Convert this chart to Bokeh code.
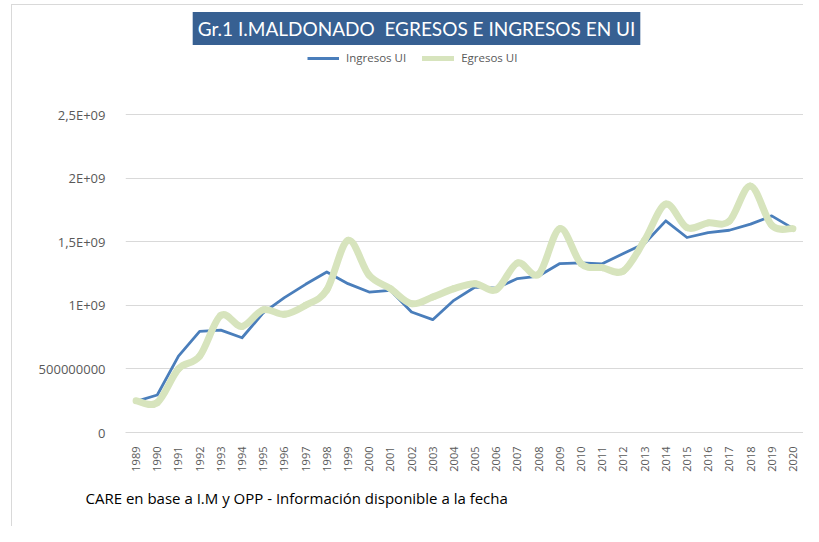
from bokeh.plotting import figure
from bokeh.models import (ColumnDataSource, FixedTicker, Label, Legend, LegendItem, Range1d, Title)
from bokeh.embed import file_html
from bokeh.resources import INLINE
from math import pi

years = list(range(1989, 2021))
ingresos = [2.45e8, 2.95e8, 6.0e8, 7.95e8, 8.05e8, 7.45e8, 9.4e8, 1.06e9, 1.165e9, 1.262e9,
            1.17e9, 1.104e9, 1.118e9, 9.47e8, 8.87e8, 1.039e9, 1.144e9, 1.135e9, 1.21e9, 1.23e9,
            1.328e9, 1.333e9, 1.326e9, 1.407e9, 1.486e9, 1.664e9, 1.533e9, 1.572e9, 1.59e9, 1.638e9,
            1.703e9, 1.605e9]
egresos = [2.5e8, 2.35e8, 5.0e8, 6.0e8, 9.2e8, 8.34e8, 9.65e8, 9.29e8, 1.0e9, 1.12e9,
           1.51e9, 1.236e9, 1.131e9, 1.013e9, 1.065e9, 1.131e9, 1.17e9, 1.123e9, 1.333e9, 1.244e9,
           1.603e9, 1.328e9, 1.296e9, 1.27e9, 1.512e9, 1.795e9, 1.611e9, 1.648e9, 1.661e9, 1.937e9,
           1.629e9, 1.603e9]
y_ticks = [0, 5e8, 1e9, 1.5e9, 2e9, 2.5e9]
y_tick_labels = ["0", "500000000", "1E+09", "1,5E+09", "2E+09", "2,5E+09"]

title_text = "Gr.1 I.MALDONADO\u00a0 EGRESOS E INGRESOS EN UI"
footer_text = "CARE en base a I.M y OPP - Información disponible a la fecha"

BLUE = "#4a7ebb"
GREEN = "#d7e4bd"
GRAY = "#595959"
FONT = "Open Sans"

# frame spans the whole top of the canvas; 2.5E+09 sits 318px above the axis
FRAME_H = 432
Y_END = 2.5e9 * FRAME_H / 318.0

p = figure(width=803, height=526, output_backend="svg", toolbar_location=None, title=None,
           x_range=Range1d(1988.5, 2020.5), y_range=Range1d(0, Y_END),
           min_border_left=125, min_border_right=0, min_border_top=0, min_border_bottom=94)
p.outline_line_color = None
p.border_fill_color = None
p.background_fill_color = None
# light grey chart-area border (left and top), drawn as page background behind the canvas
p.styles = {
    "background": ("linear-gradient(#d9d9d9, #d9d9d9) 11px 4px / 1px 100% no-repeat, "
                   "linear-gradient(#d9d9d9, #d9d9d9) 11px 4px / 100% 1px no-repeat, #ffffff"),
}

# Egresos: smoothed line (Catmull-Rom style bezier segments built from the data)
n = len(years)
x0, y0, x1, y1, cx0, cy0, cx1, cy1 = [], [], [], [], [], [], [], []
for i in range(n - 1):
    im1 = max(i - 1, 0)
    ip2 = min(i + 2, n - 1)
    x0.append(years[i]); y0.append(egresos[i])
    x1.append(years[i + 1]); y1.append(egresos[i + 1])
    cx0.append(years[i] + (years[i + 1] - years[im1]) / 6.0)
    cy0.append(egresos[i] + (egresos[i + 1] - egresos[im1]) / 6.0)
    cx1.append(years[i + 1] - (years[ip2] - years[i]) / 6.0)
    cy1.append(egresos[i + 1] - (egresos[ip2] - egresos[i]) / 6.0)
bez_src = ColumnDataSource(dict(x0=x0, y0=y0, x1=x1, y1=y1, cx0=cx0, cy0=cy0, cx1=cx1, cy1=cy1))

p.line(years, ingresos, line_color=BLUE, line_width=2.8, line_join="round")
p.bezier(x0="x0", y0="y0", x1="x1", y1="y1", cx0="cx0", cy0="cy0", cx1="cx1", cy1="cy1",
         source=bez_src, line_color=GREEN, line_width=7, line_cap="round")

# legend proxies (single point: nothing visible in the plot, but the legend glyph is drawn)
r_in = p.line(x=years[:1], y=ingresos[:1], line_color=BLUE, line_width=3)
r_eg = p.line(x=years[:1], y=egresos[:1], line_color=GREEN, line_width=5, line_cap="round")
legend = Legend(items=[LegendItem(label="Ingresos UI", renderers=[r_in]),
                       LegendItem(label="Egresos UI", renderers=[r_eg])],
                orientation="horizontal", location=(182, 367),
                border_line_color=None, background_fill_alpha=0,
                padding=0, margin=0, spacing=16, glyph_width=32, glyph_height=12,
                label_height=12, label_standoff=7,
                label_text_font=FONT, label_text_font_size="11.5px", label_text_color=GRAY)
p.add_layout(legend, "center")

# axes
p.xaxis.ticker = FixedTicker(ticks=years)
p.xaxis.major_label_orientation = pi / 2
p.xaxis.major_label_text_font = FONT
p.xaxis.major_label_text_font_size = "11px"
p.xaxis.major_label_text_color = GRAY
p.xaxis.major_label_standoff = 8
p.xaxis.axis_line_color = "#d9d9d9"
p.xaxis.major_tick_line_color = None
p.xaxis.minor_tick_line_color = None

p.yaxis.ticker = FixedTicker(ticks=y_ticks)
p.yaxis.major_label_overrides = {t: l for t, l in zip(y_ticks, y_tick_labels)}
p.yaxis.major_label_text_font = FONT
p.yaxis.major_label_text_font_size = "13px"
p.yaxis.major_label_text_color = GRAY
p.yaxis.major_label_standoff = 14
p.yaxis.axis_line_color = None
p.yaxis.major_tick_line_color = None
p.yaxis.minor_tick_line_color = None

p.xgrid.grid_line_color = None
p.ygrid.grid_line_color = "#d9d9d9"
p.ygrid.grid_line_width = 1

# title band
p.add_layout(Label(x=291, y=404, x_units="screen", y_units="screen", text=title_text,
                   text_align="center", text_baseline="middle", text_color="white",
                   text_font="Lato", text_font_size="19px",
                   background_fill_color="#376092", padding=5))
# footer (below the axis)
p.add_layout(Title(text=footer_text, align="left", offset=-40, standoff=22,
                   text_color="#000000", text_font=FONT, text_font_size="15px",
                   text_font_style="normal"), "below")

open("out.html", "w").write(file_html(p, INLINE))
